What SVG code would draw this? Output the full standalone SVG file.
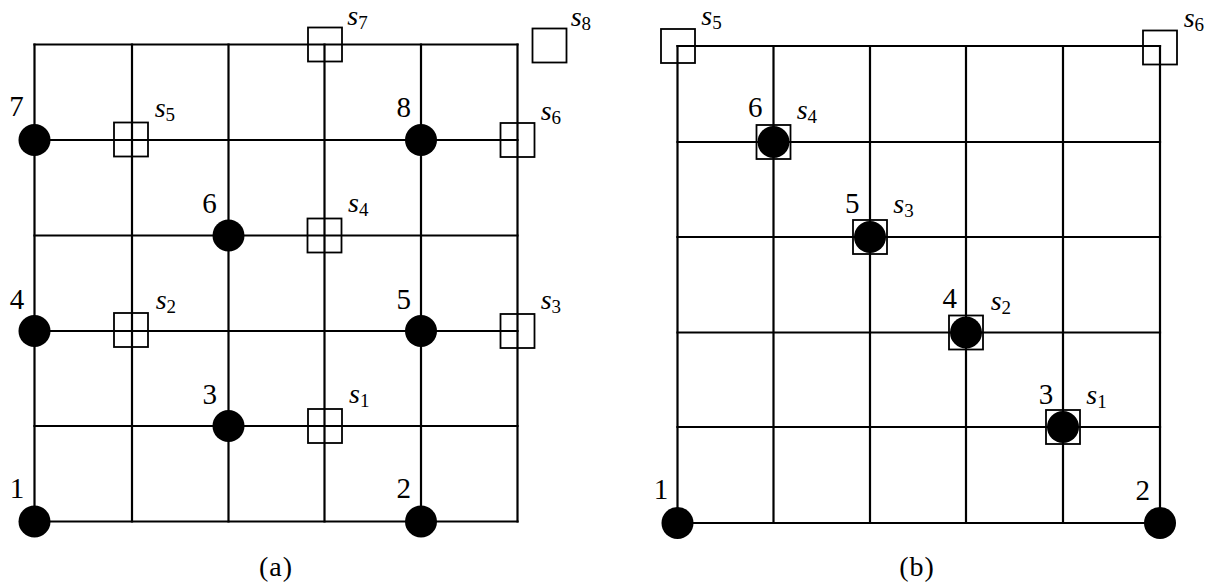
<svg xmlns="http://www.w3.org/2000/svg" width="1214" height="586" viewBox="0 0 1214 586">
<style>
.grid{fill:none;stroke:#000;stroke-width:2.2;stroke-linecap:square}
.dot{fill:#000}
.box{fill:none;stroke:#000;stroke-width:1.8}
.num{font-family:"Liberation Serif","Times New Roman",serif;font-size:29px;text-anchor:middle;fill:#000}
.lab{font-family:"Liberation Serif","Times New Roman",serif;font-size:28px;font-style:italic;fill:#000}
.sub{font-size:19px;font-style:normal}
.cap{font-family:"Liberation Serif","Times New Roman",serif;font-size:28px;text-anchor:middle;letter-spacing:1px;fill:#000}
</style>
<rect width="1214" height="586" fill="#fff"/>
<g id="connectors">
<g id="grid-a">
<path class="grid" d="M34.5 44.5H517.5M34.5 140H517.5M34.5 235.5H517.5M34.5 331H517.5M34.5 426H517.5M34.5 521.5H517.5"/>
<path class="grid" d="M34.5 44.5V521.5M132 44.5V521.5M228.5 44.5V521.5M324.5 44.5V521.5M421 44.5V521.5M517.5 44.5V521.5"/>
</g>
<g id="grid-b">
<path class="grid" d="M677.5 46H1160M677.5 142H1160M677.5 237H1160M677.5 332.5H1160M677.5 427H1160M677.5 523H1160"/>
<path class="grid" d="M677.5 46V523M773.5 46V523M870 46V523M966 46V523M1063 46V523M1160 46V523"/>
</g>
</g>
<!-- panel (a) -->
<g id="a-n1"><circle class="dot" cx="34.5" cy="521.5" r="16"/><text class="num" x="17" y="498">1</text></g>
<g id="a-n2"><circle class="dot" cx="421" cy="521.5" r="16"/><text class="num" x="403.7" y="498">2</text></g>
<g id="a-n3"><circle class="dot" cx="228.5" cy="426" r="16"/><text class="num" x="209.7" y="404">3</text></g>
<g id="a-n4"><circle class="dot" cx="34.5" cy="331" r="16"/><text class="num" x="17" y="308.5">4</text></g>
<g id="a-n5"><circle class="dot" cx="421" cy="331" r="16"/><text class="num" x="403.7" y="308.5">5</text></g>
<g id="a-n6"><circle class="dot" cx="228.5" cy="235.5" r="16"/><text class="num" x="209.5" y="212.7">6</text></g>
<g id="a-n7"><circle class="dot" cx="34.5" cy="140" r="16"/><text class="num" x="16.5" y="116">7</text></g>
<g id="a-n8"><circle class="dot" cx="421" cy="140" r="16"/><text class="num" x="403.7" y="117.3">8</text></g>
<g id="a-s1"><rect class="box" x="308" y="409" width="34" height="34"/><text class="lab" x="349" y="403.3">s<tspan class="sub" dy="4">1</tspan></text></g>
<g id="a-s2"><rect class="box" x="114" y="313" width="34" height="34"/><text class="lab" x="155.7" y="309.3">s<tspan class="sub" dy="4">2</tspan></text></g>
<g id="a-s3"><rect class="box" x="500.5" y="314" width="34" height="34"/><text class="lab" x="540.7" y="309.3">s<tspan class="sub" dy="4">3</tspan></text></g>
<g id="a-s4"><rect class="box" x="307.5" y="218.5" width="34" height="34"/><text class="lab" x="348" y="211.7">s<tspan class="sub" dy="4">4</tspan></text></g>
<g id="a-s5"><rect class="box" x="114" y="122.5" width="34" height="34"/><text class="lab" x="154.7" y="116.7">s<tspan class="sub" dy="4">5</tspan></text></g>
<g id="a-s6"><rect class="box" x="500.5" y="123" width="34" height="34"/><text class="lab" x="540.7" y="120">s<tspan class="sub" dy="4">6</tspan></text></g>
<g id="a-s7"><rect class="box" x="308" y="27.5" width="34" height="34"/><text class="lab" x="347.3" y="25">s<tspan class="sub" dy="4">7</tspan></text></g>
<g id="a-s8"><rect class="box" x="532.5" y="28.5" width="34" height="34"/><text class="lab" x="570.7" y="26">s<tspan class="sub" dy="4">8</tspan></text></g>
<text id="cap-a" class="cap" x="276" y="576">(a)</text>
<!-- panel (b) -->
<g id="b-n1"><circle class="dot" cx="677.5" cy="523" r="16"/><text class="num" x="661" y="499">1</text></g>
<g id="b-n2"><circle class="dot" cx="1160" cy="523" r="16"/><text class="num" x="1142.7" y="500">2</text></g>
<g id="b-n3"><circle class="dot" cx="1063" cy="427" r="16"/><rect class="box" x="1046" y="410" width="34" height="34"/><text class="num" x="1046" y="404">3</text><text class="lab" x="1086.3" y="404">s<tspan class="sub" dy="4">1</tspan></text></g>
<g id="b-n4"><circle class="dot" cx="966" cy="332.5" r="16"/><rect class="box" x="949" y="315.5" width="34" height="34"/><text class="num" x="949.7" y="308.3">4</text><text class="lab" x="990.7" y="310">s<tspan class="sub" dy="4">2</tspan></text></g>
<g id="b-n5"><circle class="dot" cx="870" cy="237" r="16"/><rect class="box" x="853" y="220" width="34" height="34"/><text class="num" x="852.3" y="213.3">5</text><text class="lab" x="893.3" y="213.3">s<tspan class="sub" dy="4">3</tspan></text></g>
<g id="b-n6"><circle class="dot" cx="773.5" cy="142" r="16"/><rect class="box" x="756.5" y="125" width="34" height="34"/><text class="num" x="755.3" y="117.3">6</text><text class="lab" x="796.7" y="119">s<tspan class="sub" dy="4">4</tspan></text></g>
<g id="b-s5"><rect class="box" x="661" y="29" width="34" height="34"/><text class="lab" x="701.3" y="25">s<tspan class="sub" dy="4">5</tspan></text></g>
<g id="b-s6"><rect class="box" x="1143" y="30.5" width="34" height="34"/><text class="lab" x="1183.7" y="27">s<tspan class="sub" dy="4">6</tspan></text></g>
<text id="cap-b" class="cap" x="917" y="576">(b)</text>
</svg>
